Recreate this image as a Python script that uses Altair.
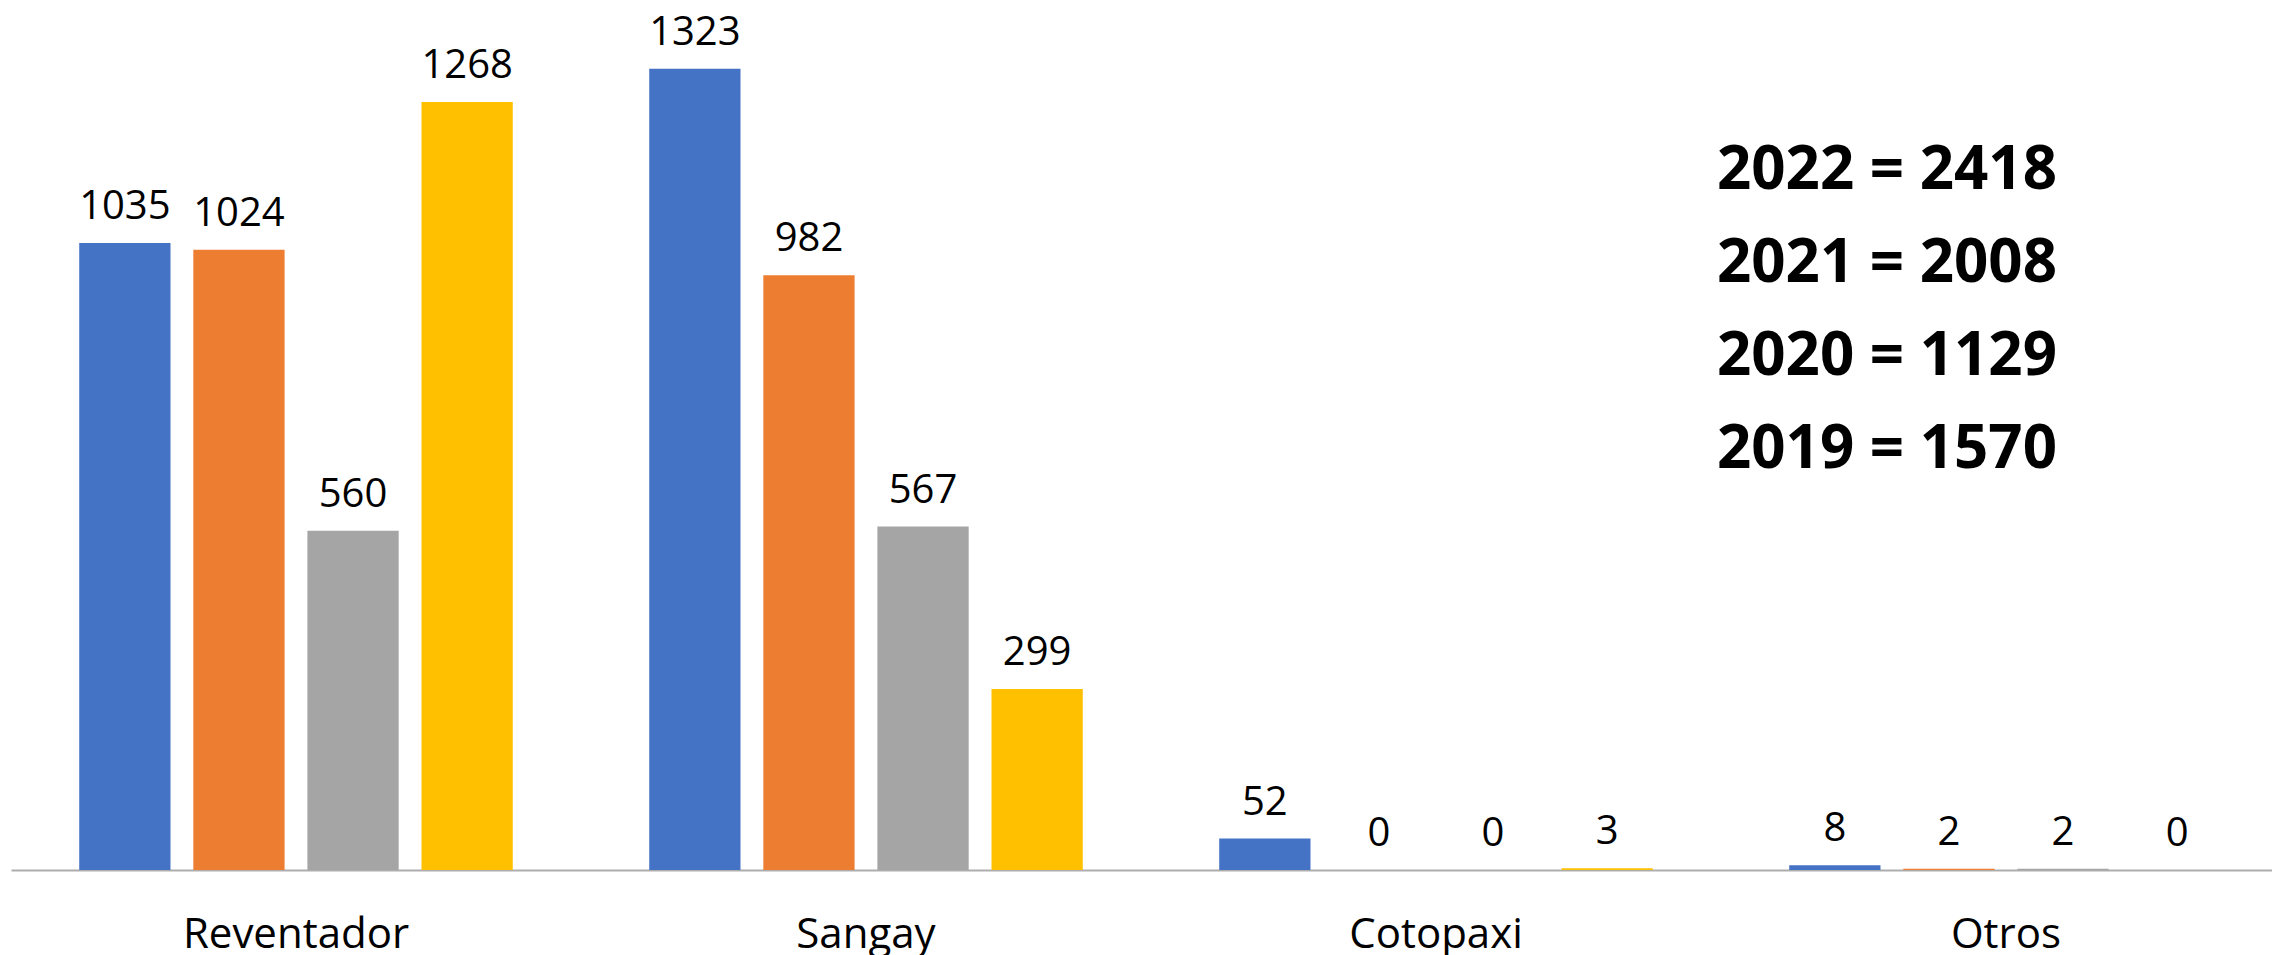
import altair as alt
import pandas as pd

categories = ["Reventador", "Sangay", "Cotopaxi", "Otros"]
years = ["2022", "2021", "2020", "2019"]
values_2022 = [1035, 1323, 52, 8]
values_2021 = [1024, 982, 0, 2]
values_2020 = [560, 567, 0, 2]
values_2019 = [1268, 299, 3, 0]
colors = ["#4472C4", "#ED7D31", "#A5A5A5", "#FFC000"]
totals_text = ["2022 = 2418", "2021 = 2008", "2020 = 1129", "2019 = 1570"]

series = {"2022": values_2022, "2021": values_2021, "2020": values_2020, "2019": values_2019}
rows = []
for y in years:
    for c, v in zip(categories, series[y]):
        rows.append({"cat": c, "year": y, "value": v})
df = pd.DataFrame(rows)

W = 2261
H = 848

x_enc = alt.X(
    "cat:N",
    sort=categories,
    scale=alt.Scale(paddingInner=0, paddingOuter=0, range=[0, 2280]),
    axis=alt.Axis(
        title=None,
        labelAngle=0,
        ticks=False,
        tickSize=0,
        grid=False,
        domainColor="#ADADAD",
        domainWidth=2,
        labelFont="Open Sans",
        labelFontSize=42,
        labelColor="#000000",
        labelBaseline="alphabetic",
        labelPadding=77,
        labelLimit=0,
    ),
)
xoff = alt.XOffset(
    "year:N",
    sort=years,
    scale=alt.Scale(domain=years, paddingInner=0.2, paddingOuter=0.598),
)
y_enc = alt.Y("value:Q", scale=alt.Scale(domain=[0, 1400], nice=False), axis=None)

base = alt.Chart(df)
bars = base.mark_bar(cornerRadius=0).encode(
    x=x_enc,
    xOffset=xoff,
    y=y_enc,
    color=alt.Color("year:N", scale=alt.Scale(domain=years, range=colors), legend=None),
)
labels = base.mark_text(
    font="Open Sans", fontSize=40, color="#000000", baseline="alphabetic", dy=-24
).encode(
    x=x_enc,
    xOffset=xoff,
    y=y_enc,
    text=alt.Text("value:Q", format="d"),
)

ann_layers = []
ybase = [167, 260, 353, 446]
for i, t in enumerate(totals_text):
    ann_layers.append(
        alt.Chart(pd.DataFrame({"t": [t]}))
        .mark_text(
            font="Open Sans", fontSize=60, fontWeight="bold", color="#000000",
            align="left", baseline="alphabetic",
        )
        .encode(x=alt.value(1706), y=alt.value(ybase[i]), text="t:N")
    )

chart = alt.layer(bars, labels, *ann_layers).properties(
    width=W, height=H,
    autosize=alt.AutoSizeParams(type="none"),
    padding={"left": 3, "top": 14, "right": 0, "bottom": 90},
).configure(background="#FFFFFF").configure_view(stroke=None)

chart.save("out.html", embed_options={"renderer": "svg", "actions": False})
